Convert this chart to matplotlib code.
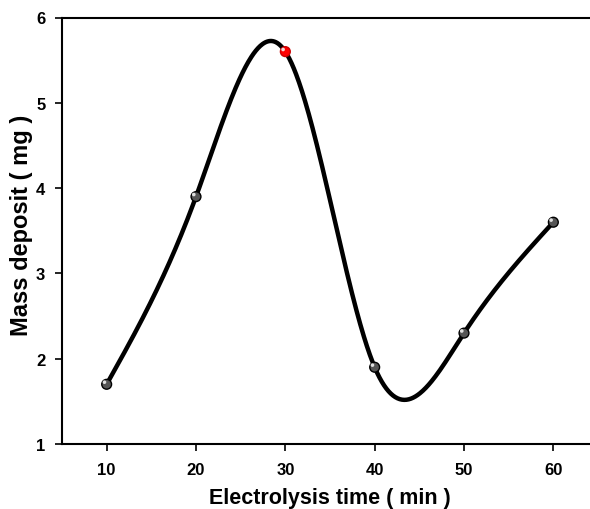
import numpy as np
import matplotlib
matplotlib.use("Agg")
import matplotlib.pyplot as plt

time_min = [10, 20, 30, 40, 50, 60]
mass_mg = [1.7, 3.9, 5.6, 1.9, 2.3, 3.6]
highlight_index = 2
x_ticks = [10, 20, 30, 40, 50, 60]
y_ticks = [1, 2, 3, 4, 5, 6]

plt.rcParams['font.family'] = ['Liberation Sans', 'DejaVu Sans']
plt.rcParams['font.weight'] = 'bold'


def natural_cubic_spline(x, y, xs):
    x = np.asarray(x, float); y = np.asarray(y, float)
    n = len(x)
    h = np.diff(x)
    A = np.zeros((n, n)); b = np.zeros(n)
    A[0, 0] = 1; A[-1, -1] = 1
    for i in range(1, n - 1):
        A[i, i - 1] = h[i - 1]
        A[i, i] = 2 * (h[i - 1] + h[i])
        A[i, i + 1] = h[i]
        b[i] = 6 * ((y[i + 1] - y[i]) / h[i] - (y[i] - y[i - 1]) / h[i - 1])
    M = np.linalg.solve(A, b)
    idx = np.clip(np.searchsorted(x, xs) - 1, 0, n - 2)
    x0 = x[idx]; x1 = x[idx + 1]; hh = x1 - x0
    t0 = x1 - xs; t1 = xs - x0
    return (M[idx] * t0**3 / (6 * hh) + M[idx + 1] * t1**3 / (6 * hh)
            + (y[idx] / hh - M[idx] * hh / 6) * t0
            + (y[idx + 1] / hh - M[idx + 1] * hh / 6) * t1)


fig = plt.figure(figsize=(5.9, 5.1), dpi=100)
ax = fig.add_axes([62 / 590, 65 / 510, 536 / 590, 426.5 / 510])

xs = np.linspace(time_min[0], time_min[-1], 600)
ys = natural_cubic_spline(time_min, mass_mg, xs)
ax.plot(xs, ys, color='black', lw=3.2, solid_capstyle='round', zorder=2)

colors = ['#555555'] * len(time_min)
colors[highlight_index] = '#ff0000'
edge = ['black'] * len(time_min)
edge[highlight_index] = '#cc0000'
ax.scatter(time_min, mass_mg, s=50, c=colors, edgecolors=edge, linewidths=1.0, zorder=3)
ax.scatter(np.array(time_min) - 0.25, np.array(mass_mg) + 0.025, s=7,
           c='#f0f0f0', edgecolors='none', zorder=4, alpha=0.9)

ax.set_xlim(5, 65)
ax.set_ylim(1, 6)
ax.set_xticks(x_ticks)
ax.set_yticks(y_ticks)
ax.spines['right'].set_visible(False)
for s in ['left', 'bottom', 'top']:
    ax.spines[s].set_linewidth(1.5)
ax.tick_params(direction='out', length=5, width=1.2, labelsize=12, top=False, right=False)
ax.tick_params(axis='x', pad=8)
ax.tick_params(axis='y', pad=7)
for lab in ax.get_xticklabels() + ax.get_yticklabels():
    lab.set_fontweight('bold')
ax.set_xlabel('Electrolysis time ( min )', fontsize=15.5, fontweight='bold', labelpad=7)
ax.set_ylabel('Mass deposit ( mg )', fontsize=17, fontweight='bold')
ax.yaxis.set_label_coords(-0.054, 0.515)

fig.savefig('out.png', dpi=100)
